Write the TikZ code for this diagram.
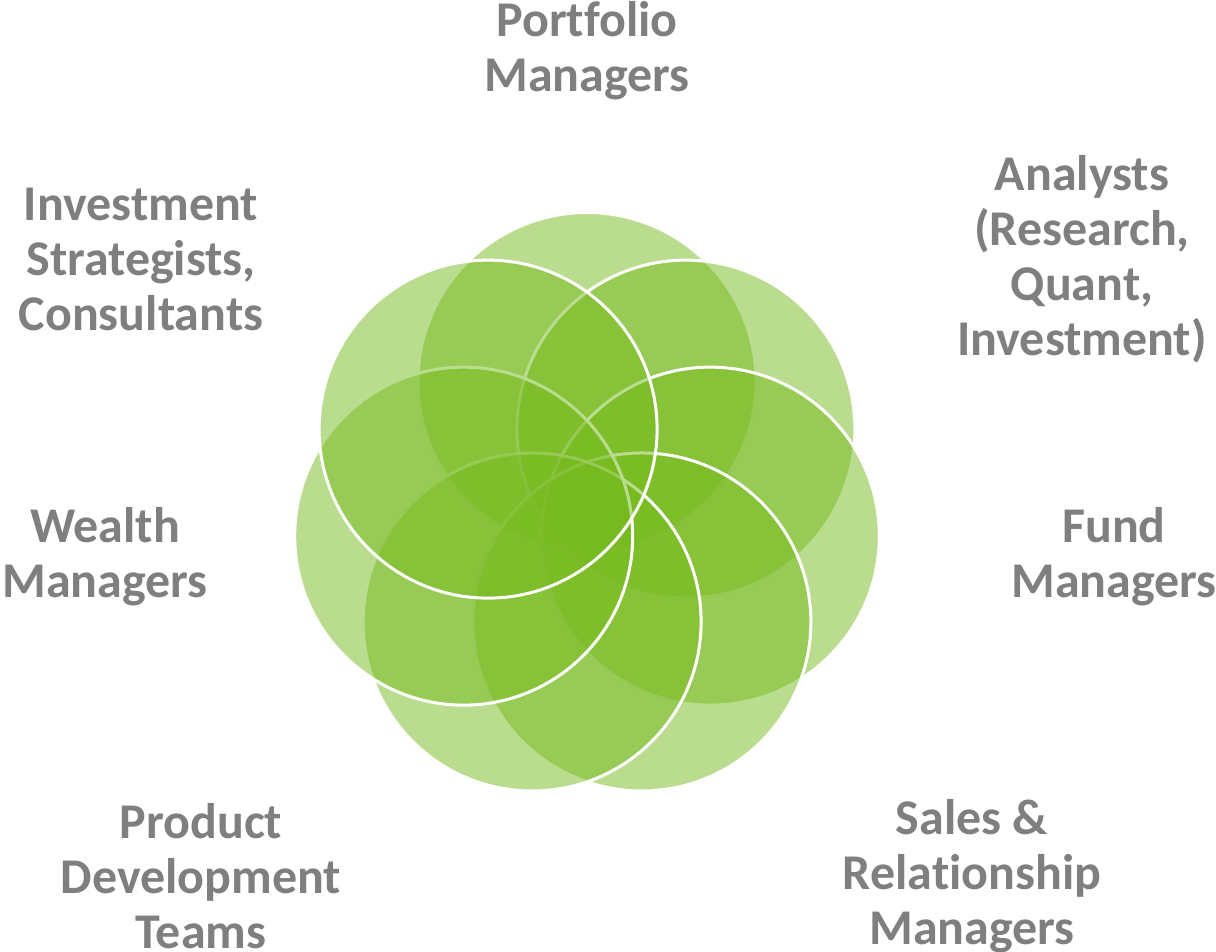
\documentclass[tikz,border=0pt]{standalone}
\usepackage{fontspec}
\setmainfont{Carlito}[Ligatures=NoCommon]
\definecolor{leaf}{RGB}{118,186,30}
\definecolor{rolegray}{RGB}{127,127,127}
\tikzset{
  petal/.style={fill=leaf,fill opacity=0.5,draw=white,line width=3pt},
  role/.style={text=rolegray,font=\fontsize{50}{55}\selectfont\bfseries,align=center,inner sep=0pt}
}
\begin{document}
\begin{tikzpicture}[x=1pt,y=-1pt]
\useasboundingbox (0,0) rectangle (1216,952);
\pgfmathsetmacro{\dist}{126.5}
\pgfmathsetmacro{\rad}{169}
\coordinate (hub) at (587,508);
\foreach \i in {0,...,6}{
  \pgfmathsetmacro{\ang}{-90+\i*360/7}
  \draw[petal] (hub) ++(\ang:\dist) coordinate (p\i) circle[radius=\rad pt];
}
\node[role] (portfolio) at (587,51) {Portfolio\\Managers};
\node[role] (analysts) at (1082,259) {Analysts\\(Research,\\Quant,\\Investment)};
\node[role] (fund) at (1114,557) {Fund\\Managers};
\node[role] (sales) at (972,876) {Sales \&\\Relationship\\Managers};
\node[role] (product) at (201,876) {Product\\Development\\Teams};
\node[role] (wealth) at (105,557) {Wealth\\Managers};
\node[role] (strategists) at (141,259) {Investment\\Strategists,\\Consultants};
\end{tikzpicture}
\end{document}
